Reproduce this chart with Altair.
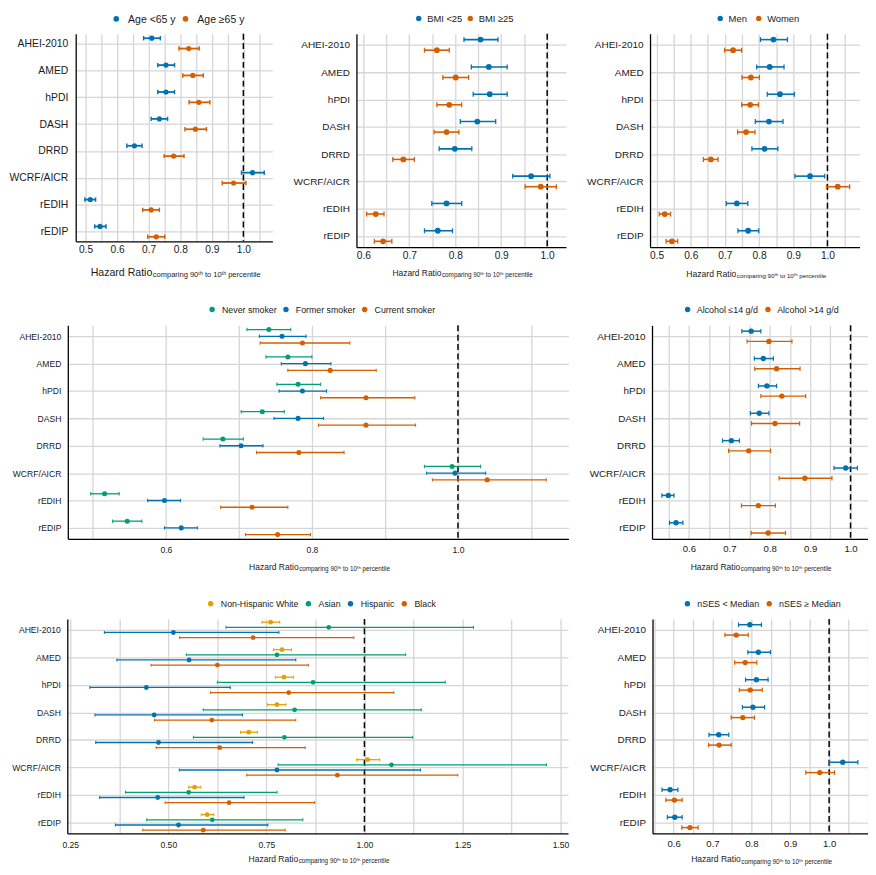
import json
import math
import altair as alt
import pandas as pd

diets = ["AHEI-2010", "AMED", "hPDI", "DASH", "DRRD", "WCRF/AICR", "rEDIH", "rEDIP"]

# ---- Age ----
age_groups = ["Age <65 y", "Age ≥65 y"]
age_lt65_hr = [0.710, 0.755, 0.755, 0.734, 0.655, 1.029, 0.515, 0.546]
age_lt65_lo = [0.684, 0.729, 0.729, 0.708, 0.631, 0.994, 0.498, 0.529]
age_lt65_hi = [0.737, 0.782, 0.782, 0.760, 0.679, 1.066, 0.532, 0.565]
age_ge65_hr = [0.827, 0.840, 0.859, 0.848, 0.779, 0.969, 0.708, 0.724]
age_ge65_lo = [0.796, 0.808, 0.828, 0.815, 0.749, 0.933, 0.681, 0.697]
age_ge65_hi = [0.860, 0.873, 0.894, 0.883, 0.812, 1.008, 0.734, 0.751]

# ---- BMI ----
bmi_groups = ["BMI <25", "BMI ≥25"]
bmi_lt25_hr = [0.855, 0.873, 0.875, 0.848, 0.799, 0.965, 0.781, 0.762]
bmi_lt25_lo = [0.819, 0.835, 0.839, 0.811, 0.765, 0.925, 0.749, 0.733]
bmi_lt25_hi = [0.893, 0.913, 0.913, 0.888, 0.836, 1.006, 0.814, 0.794]
bmi_ge25_hr = [0.760, 0.801, 0.787, 0.781, 0.687, 0.986, 0.627, 0.643]
bmi_ge25_lo = [0.733, 0.773, 0.760, 0.754, 0.664, 0.952, 0.607, 0.624]
bmi_ge25_hi = [0.787, 0.829, 0.814, 0.808, 0.711, 1.020, 0.645, 0.662]

# ---- Sex ----
sex_groups = ["Men", "Women"]
men_hr = [0.842, 0.831, 0.861, 0.829, 0.816, 0.949, 0.735, 0.768]
men_lo = [0.804, 0.793, 0.824, 0.789, 0.779, 0.905, 0.704, 0.738]
men_hi = [0.883, 0.873, 0.903, 0.870, 0.855, 0.992, 0.767, 0.799]
women_hr = [0.724, 0.776, 0.774, 0.762, 0.659, 1.030, 0.524, 0.545]
women_lo = [0.699, 0.750, 0.749, 0.737, 0.637, 0.997, 0.508, 0.528]
women_hi = [0.749, 0.801, 0.798, 0.788, 0.680, 1.065, 0.541, 0.562]

# ---- Smoking ----
smk_groups = ["Never smoker", "Former smoker", "Current smoker"]
never_hr = [0.741, 0.767, 0.781, 0.732, 0.678, 0.992, 0.516, 0.547]
never_lo = [0.711, 0.737, 0.752, 0.703, 0.651, 0.954, 0.497, 0.527]
never_hi = [0.771, 0.800, 0.812, 0.762, 0.706, 1.031, 0.536, 0.567]
former_hr = [0.759, 0.791, 0.787, 0.781, 0.703, 0.996, 0.598, 0.621]
former_lo = [0.728, 0.758, 0.755, 0.748, 0.674, 0.957, 0.575, 0.598]
former_hi = [0.792, 0.826, 0.820, 0.816, 0.733, 1.038, 0.620, 0.643]
current_hr = [0.787, 0.825, 0.874, 0.874, 0.782, 1.040, 0.718, 0.753]
current_lo = [0.729, 0.767, 0.812, 0.809, 0.724, 0.965, 0.675, 0.709]
current_hi = [0.852, 0.888, 0.941, 0.942, 0.844, 1.121, 0.767, 0.798]

# ---- Alcohol ----
alc_groups = ["Alcohol ≤14 g/d", "Alcohol >14 g/d"]
alc_low_hr = [0.754, 0.784, 0.793, 0.774, 0.705, 0.988, 0.549, 0.568]
alc_low_lo = [0.731, 0.762, 0.772, 0.752, 0.683, 0.959, 0.533, 0.552]
alc_low_hi = [0.778, 0.809, 0.817, 0.798, 0.725, 1.017, 0.563, 0.585]
alc_high_hr = [0.798, 0.817, 0.830, 0.813, 0.748, 0.887, 0.772, 0.796]
alc_high_lo = [0.744, 0.763, 0.778, 0.755, 0.698, 0.823, 0.730, 0.754]
alc_high_hi = [0.855, 0.875, 0.889, 0.874, 0.802, 0.954, 0.814, 0.839]

# ---- Race ----
race_groups = ["Non-Hispanic White", "Asian", "Hispanic", "Black"]
nhw_hr = [0.761, 0.790, 0.795, 0.777, 0.705, 1.008, 0.567, 0.599]
nhw_lo = [0.739, 0.768, 0.773, 0.753, 0.684, 0.980, 0.552, 0.584]
nhw_hi = [0.784, 0.814, 0.819, 0.800, 0.727, 1.039, 0.583, 0.616]
asian_hr = [0.909, 0.777, 0.869, 0.822, 0.796, 1.069, 0.552, 0.612]
asian_lo = [0.647, 0.546, 0.625, 0.589, 0.564, 0.780, 0.391, 0.445]
asian_hi = [1.278, 1.105, 1.206, 1.145, 1.123, 1.464, 0.777, 0.843]
hisp_hr = [0.513, 0.553, 0.444, 0.464, 0.475, 0.777, 0.473, 0.526]
hisp_lo = [0.337, 0.369, 0.300, 0.313, 0.315, 0.528, 0.325, 0.365]
hisp_hi = [0.782, 0.825, 0.658, 0.689, 0.715, 1.143, 0.693, 0.754]
black_hr = [0.716, 0.625, 0.807, 0.611, 0.631, 0.931, 0.655, 0.589]
black_lo = [0.529, 0.456, 0.608, 0.465, 0.469, 0.700, 0.492, 0.435]
black_hi = [0.973, 0.857, 1.075, 0.825, 0.849, 1.238, 0.873, 0.798]

# ---- nSES ----
ses_groups = ["nSES < Median", "nSES ≥ Median"]
ses_low_hr = [0.796, 0.818, 0.813, 0.804, 0.716, 1.035, 0.591, 0.603]
ses_low_lo = [0.767, 0.791, 0.785, 0.777, 0.691, 1.001, 0.570, 0.584]
ses_low_hi = [0.826, 0.849, 0.843, 0.834, 0.742, 1.074, 0.611, 0.622]
ses_high_hr = [0.761, 0.784, 0.797, 0.778, 0.717, 0.976, 0.602, 0.642]
ses_high_lo = [0.732, 0.757, 0.769, 0.748, 0.690, 0.940, 0.580, 0.621]
ses_high_hi = [0.792, 0.814, 0.828, 0.808, 0.748, 1.014, 0.622, 0.663]

BLUE, ORANGE, GREEN, YELLOW = "#0072B2", "#D55E00", "#009E73", "#E69F00"
TXT = "#1a1a1a"
GRID = "#d6d6d6"
FONT = "Liberation Sans"
SUB_TEXT = "comparing 90ᵗʰ to 10ᵗʰ percentile"

# approximate Arial / Liberation Sans advance widths (per 1000 em) for legend layout
_CW = {" ": 278, "<": 584, ">": 584, "≤": 549, "≥": 549, "/": 278, "-": 333, ".": 278,
       "A": 667, "B": 667, "C": 722, "D": 722, "E": 667, "F": 611, "H": 722, "I": 278,
       "M": 833, "N": 722, "S": 667, "W": 944,
       "a": 556, "b": 556, "c": 500, "d": 556, "e": 556, "g": 556, "h": 556, "i": 222,
       "k": 500, "l": 222, "m": 833, "n": 556, "o": 556, "p": 556, "r": 333, "s": 500,
       "t": 278, "v": 500, "y": 500}


def text_w(s, fs):
    return sum(_CW.get(ch, 556) for ch in s) / 1000.0 * fs


def grid_values(d0, d1, step):
    k0 = math.ceil(d0 / step - 1e-9)
    k1 = math.floor(d1 / step + 1e-9)
    return [round(k * step, 6) for k in range(k0, k1 + 1)]


def panel(groups, colors, series, c):
    rows = []
    for g, (hr, lo, hi) in zip(groups, series):
        for d, a, b, u in zip(diets, hr, lo, hi):
            rows.append({"diet": d, "group": g, "hr": a, "lo": b, "hi": u})
    df = pd.DataFrame(rows)
    W, H = c["w"], c["h"]
    n = len(groups)
    step_px = H / (7 + 2 * c["pad"])
    cap_u = c["cap"] / 2 / step_px
    ls = c["lstep"]
    xs = alt.Scale(domain=c["dom"], nice=False, zero=False)
    xaxis = alt.Axis(
        title=None, values=grid_values(c["dom"][0], c["dom"][1], c["gstep"]),
        labelExpr=(f"abs(datum.value/{ls} - round(datum.value/{ls})) < 0.001 && datum.value <= {c['lmax']} + 0.001"
                   f" ? format(datum.value, '{c['fmt']}') : ''"),
        grid=True, gridColor=GRID, gridWidth=1.3, ticks=False,
        domainColor="black", domainWidth=1.3,
        labelFontSize=c["xfs"], labelColor=TXT, labelPadding=c["xlp"], labelFont=FONT,
    )
    yaxis = alt.Axis(
        title=None, values=list(range(len(diets))),
        labelExpr=f"{json.dumps(diets)}[datum.value]",
        grid=True, gridColor=GRID, gridWidth=1.3, ticks=False,
        domainColor="black", domainWidth=1.3,
        labelFontSize=c["yfs"], labelColor=TXT, labelPadding=c["ylp"], minExtent=c["ext"], labelFont=FONT,
    )
    ys = alt.Scale(domain=[-c["pad"], 7 + c["pad"]], reverse=True, nice=False, zero=False)
    col = alt.Color("group:N", scale=alt.Scale(domain=groups, range=colors), legend=None)
    base = alt.Chart(df).transform_calculate(
        ypos=f"indexof({json.dumps(diets)}, datum.diet) + "
             f"(indexof({json.dumps(groups)}, datum.group) - {(n - 1) / 2}) * {c['sp']}"
    ).transform_calculate(
        ytop=f"datum.ypos - {cap_u}", ybot=f"datum.ypos + {cap_u}"
    )
    y = alt.Y("ypos:Q", scale=ys, axis=yaxis)
    ref = alt.Chart(pd.DataFrame({"v": [1.0]})).mark_rule(
        color="black", strokeDash=[6, 3.5], strokeWidth=1.5
    ).encode(x=alt.X("v:Q", scale=xs, axis=xaxis))
    ci = base.mark_rule(strokeWidth=c["sw"]).encode(
        x=alt.X("lo:Q", scale=xs, axis=xaxis), x2="hi:Q", y=y, color=col)
    cap_lo = base.mark_rule(strokeWidth=c["sw"] * 0.8).encode(
        x=alt.X("lo:Q", scale=xs, axis=xaxis), y=alt.Y("ytop:Q", scale=ys, axis=yaxis), y2="ybot:Q", color=col)
    cap_hi = base.mark_rule(strokeWidth=c["sw"] * 0.8).encode(
        x=alt.X("hi:Q", scale=xs, axis=xaxis), y=alt.Y("ytop:Q", scale=ys, axis=yaxis), y2="ybot:Q", color=col)
    pts = base.mark_circle(size=c["pt"], opacity=1).encode(
        x=alt.X("hr:Q", scale=xs, axis=xaxis), y=y, color=col)

    # legend drawn above the plot: dot + label per group
    layers = [ref, ci, cap_lo, cap_hi, pts]
    lfs = c["lfs"]
    dot_x = c["lx"]
    for g in groups:
        gdf = pd.DataFrame({"group": [g]})
        layers.append(alt.Chart(gdf).mark_circle(size=c["lsym"], opacity=1).encode(
            x=alt.value(dot_x), y=alt.value(c["ly"]), color=col))
        tx = dot_x + c["g1"]
        layers.append(alt.Chart(gdf).mark_text(
            align="left", baseline="alphabetic", fontSize=lfs, font=FONT, color=TXT
        ).encode(x=alt.value(tx), y=alt.value(c["ly"] + 0.355 * lfs), text="group:N"))
        dot_x = tx + text_w(g, lfs) + c["g2"]

    main_w = 5.835 * c["tf"]
    sub_w = 14.0 * c["sf"]
    split = W / 2 + (main_w - sub_w) / 2
    t1 = alt.Chart(pd.DataFrame({"t": ["Hazard Ratio"]})).mark_text(
        align="right", baseline="middle", fontSize=c["tf"], font=FONT, color=TXT
    ).encode(text="t:N", x=alt.value(split), y=alt.value(H + c["ty"]))
    t2 = alt.Chart(pd.DataFrame({"t": [SUB_TEXT]})).mark_text(
        align="left", baseline="middle", fontSize=c["sf"], font=FONT, color=TXT
    ).encode(text="t:N", x=alt.value(split + 0.5), y=alt.value(H + c["ty"] + 2.2))
    layers += [t1, t2]
    return alt.layer(*layers).properties(width=W, height=H)


common = dict(gstep=0.05, lstep=0.1, lmax=1.0, fmt=".1f", ylp=7, ext=64, lsym=30,
              g1=9.5, g2=9.5, pad=0.4, ly=-15.5)

pA = panel(age_groups, [BLUE, ORANGE],
           [(age_lt65_hr, age_lt65_lo, age_lt65_hi), (age_ge65_hr, age_ge65_lo, age_ge65_hi)],
           dict(common, w=199, h=210, dom=[0.469, 1.092], ext=68.5, ylp=8, yfs=10.5,
                xfs=10.3, xlp=3, lfs=10.6, lx=41, ly=-15, pad=0.36, sp=0.384, sw=1.8, cap=4.5,
                pt=28, tf=10.7, sf=7.6, ty=32, g1=12, g2=10, lsym=32))
pB = panel(bmi_groups, [BLUE, ORANGE],
           [(bmi_lt25_hr, bmi_lt25_lo, bmi_lt25_hi), (bmi_ge25_hr, bmi_ge25_lo, bmi_ge25_hi)],
           dict(common, w=212, h=216, dom=[0.585, 1.041], yfs=10.1, xfs=10.3, xlp=3,
                lfs=9.5, lx=63, pad=0.41, sp=0.387, sw=1.6, cap=5, pt=34,
                tf=8.5, sf=6.4, ty=25.7, g1=8.5, g2=8))
pC = panel(sex_groups, [BLUE, ORANGE],
           [(men_hr, men_lo, men_hi), (women_hr, women_lo, women_hi)],
           dict(common, w=212, h=216, dom=[0.481, 1.094], yfs=10.1, xfs=10.3, xlp=3,
                lfs=9.5, lx=71, pad=0.41, sp=0.387, sw=1.6, cap=5, pt=34,
                tf=8.7, sf=6.3, ty=27.4, g1=8.5, g2=12))
pD = panel(smk_groups, [GREEN, BLUE, ORANGE],
           [(never_hr, never_lo, never_hi), (former_hr, former_lo, former_hi),
            (current_hr, current_lo, current_hi)],
           dict(common, w=506.5, h=216, dom=[0.4656, 1.1514], gstep=0.1, lstep=0.2,
                ext=57, yfs=8.7, xfs=8.7, xlp=7, lfs=8.9, lx=146, ly=-16, sp=0.246,
                sw=1.3, cap=3.5, pt=26, tf=8.6, sf=6.4, ty=28.7, g1=10, g2=9.3))
pE = panel(alc_groups, [BLUE, ORANGE],
           [(alc_low_hr, alc_low_lo, alc_low_hi), (alc_high_hr, alc_high_lo, alc_high_hi)],
           dict(common, w=218, h=216, dom=[0.5086, 1.042], yfs=10, xfs=9.7, xlp=5,
                lfs=9, lx=36, ly=-16, sp=0.373, sw=1.5, cap=4.5, pt=30,
                tf=8.6, sf=6.4, ty=28.7, g1=9.3, g2=10))
pF = panel(race_groups, [YELLOW, GREEN, BLUE, ORANGE],
           [(nhw_hr, nhw_lo, nhw_hi), (asian_hr, asian_lo, asian_hi),
            (hisp_hr, hisp_lo, hisp_hi), (black_hr, black_lo, black_hi)],
           dict(common, w=506.5, h=217, dom=[0.2425, 1.519], gstep=0.125, lstep=0.25, lmax=1.5,
                fmt=".2f", ext=57, yfs=8.7, xfs=8.7, xlp=7, lfs=8.9, lx=145, ly=-15.3,
                sp=0.187, sw=1.3, cap=3, pt=24, tf=8.6, sf=6.4, ty=26, g1=10.3, g2=10))
pG = panel(ses_groups, [BLUE, ORANGE],
           [(ses_low_hr, ses_low_lo, ses_low_hi), (ses_high_hr, ses_high_lo, ses_high_hi)],
           dict(common, w=218, h=217, dom=[0.5457, 1.1], yfs=10, xfs=9.7, xlp=5,
                lfs=9, lx=35.3, ly=-15.3, sp=0.377, sw=1.5, cap=4.5, pt=30,
                tf=8.6, sf=6.4, ty=26.3, g1=10, g2=10))

res = dict(color="independent", x="independent", y="independent")
row1 = alt.hconcat(pA, pB, pC, spacing=20).resolve_scale(**res)
row2 = alt.hconcat(pD, pE, spacing=20).resolve_scale(**res)
row3 = alt.hconcat(pF, pG, spacing=20).resolve_scale(**res)

chart = (
    alt.vconcat(row1, row2, row3, spacing=26, center=True)
    .resolve_scale(**res)
    .properties(padding=0)
    .configure(font=FONT)
    .configure_view(stroke=None)
)

chart.save("out.html", embed_options={"renderer": "svg", "actions": False})
